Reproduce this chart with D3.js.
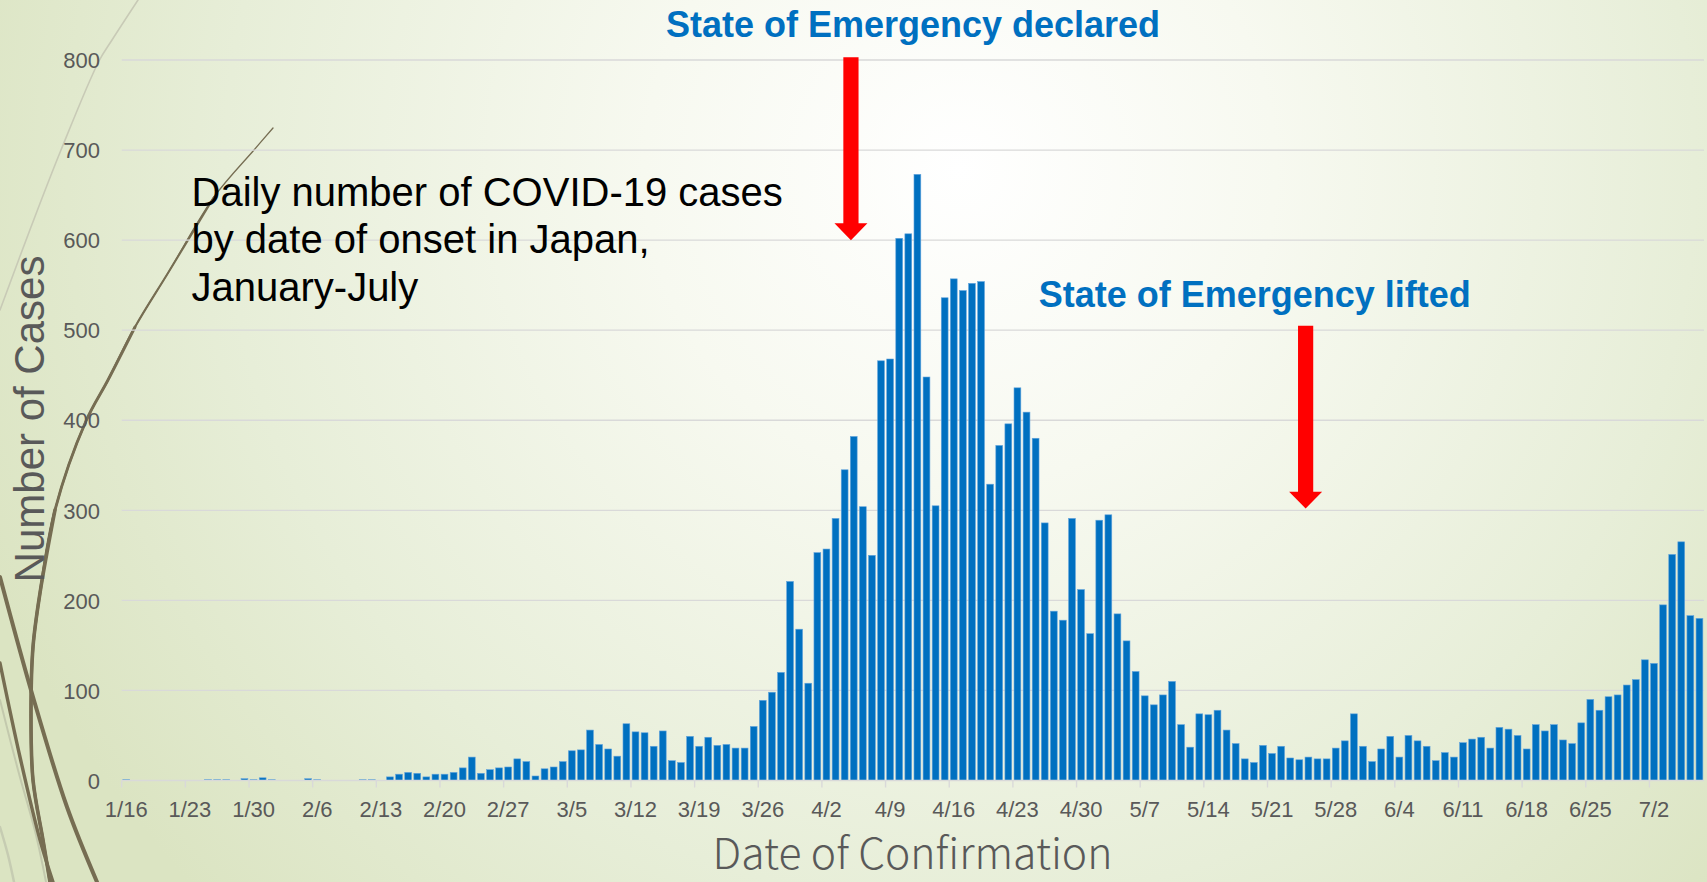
<!DOCTYPE html>
<html>
<head>
<meta charset="utf-8">
<script src="https://cdn.jsdelivr.net/npm/d3@7"></script>
<style>
html,body{margin:0;padding:0;overflow:hidden;background:#eef2e2;}
svg{display:block;}
</style>
</head>
<body>
<svg id="chart" width="1707" height="882"></svg>
<script>
// ---------------- DATA ----------------
const firstDay = "2020-01-16";
const lastDay  = "2020-07-07";
// daily cases, one value per day from 1/16 to 7/7
const casesJan = [1,0,0,0,0,0,0,0,0,1,1,1,0,2,1,3];                      // 1/16-1/31
const casesFeb = [1,0,0,0,2,1,0,0,0,0,1,1,0,4,7,9,8,4,7,7,9,14,26,8,12,14,15,24,21];
const casesMar = [5,13,15,21,33,34,56,40,35,27,63,54,53,38,55,22,20,49,38,48,39,40,36,36,60,89,98,120,221,168,108];
const casesApr = [253,257,291,345,382,304,250,466,468,602,607,673,448,305,536,557,544,552,554,329,372,396,436,409,380,286,188,178,291,212];
const casesMay = [163,289,295,185,155,121,94,84,95,110,62,37,74,73,78,56,41,24,20,39,30,38,25,23,26,24,24,36,44,74,38];
const casesJun = [21,35,49,26,50,44,38,22,31,26,42,46,48,36,59,57,50,35,62,55,62,45,41,64,90,78,93,95,106,112];
const casesJul = [134,130,195,251,265,183,180];
const xTickLabels = ["1/16","1/23","1/30","2/6","2/13","2/20","2/27","3/5","3/12","3/19","3/26","4/2","4/9","4/16","4/23","4/30","5/7","5/14","5/21","5/28","6/4","6/11","6/18","6/25","7/2"];
const yTickValues = [0,100,200,300,400,500,600,700,800];
const titleLines = ["Daily number of COVID-19 cases","by date of onset in Japan,","January-July"];
const eventLabels = ["State of Emergency declared","State of Emergency lifted"];
const eventDates  = ["4/5","5/25"];
const eventArrowTop = [803, 505];   // value at arrow tail
const eventArrowTip = [600, 302];   // value at arrow tip

// ---------------- SETUP ----------------
const fmt = d3.timeFormat("%-m/%-d");
const parse = d3.timeParse("%Y-%m-%d");
const days = d3.timeDay.range(parse(firstDay), d3.timeDay.offset(parse(lastDay), 1)).map(fmt);
const cases = [].concat(casesJan, casesFeb, casesMar, casesApr, casesMay, casesJun, casesJul);
const data = days.map((d, i) => ({date: d, value: cases[i]}));

const W = 1707, H = 882;
const plotL = 121.7, plotR = 1704, plotB = 780.5, plotT = 60;
const FONT = "'Liberation Sans', Arial, Helvetica, sans-serif";
const GRAY = "#595959";

const svg = d3.select("#chart");
const defs = svg.append("defs");

// background gradient
const rg = defs.append("radialGradient").attr("id", "bg")
  .attr("gradientUnits", "userSpaceOnUse")
  .attr("cx", 960).attr("cy", 170).attr("r", 1050)
  .attr("fx", 960).attr("fy", 170);
rg.append("stop").attr("offset", 0).attr("stop-color", "#ffffff");
rg.append("stop").attr("offset", 0.3).attr("stop-color", "#f7f9f0");
rg.append("stop").attr("offset", 0.7).attr("stop-color", "#e7eed8");
rg.append("stop").attr("offset", 1).attr("stop-color", "#dbe4c2");
svg.append("rect").attr("width", W).attr("height", H).attr("fill", "url(#bg)");

// decorative wisp lines (theme ornament)
const deco = svg.append("g").attr("fill", "none").attr("stroke-linecap", "round");
const lineGen = d3.line().curve(d3.curveCatmullRom.alpha(0.5));
const olive = "#766d52";
deco.append("path").attr("d", lineGen([[138,0],[112,40],[99,61],[61,150],[31,227],[0,310]]))
  .attr("stroke", "#c8cab6").attr("stroke-width", 1.6);
deco.append("path").attr("d", lineGen([[0,700],[18,770],[36,835],[46,882]]))
  .attr("stroke", "#c3c9ad").attr("stroke-width", 2);
deco.append("path").attr("d", lineGen([[0,827],[8,855],[14,882]]))
  .attr("stroke", "#c6ccb2").attr("stroke-width", 2.5);
const arcPts = [[273,128],[254,150],[214,197],[168,273],[135,327],[108,380],[86,421],[55,510],[40,593],[33,647],[31,713],[33,780],[43,840],[50,882]];
deco.append("path").attr("d", lineGen(arcPts)).attr("stroke", olive).attr("stroke-width", 1.3);
deco.append("path").attr("d", lineGen(arcPts.slice(2))).attr("stroke", olive).attr("stroke-width", 2.1);
deco.append("path").attr("d", lineGen(arcPts.slice(4))).attr("stroke", olive).attr("stroke-width", 2.9);
deco.append("path").attr("d", lineGen(arcPts.slice(7))).attr("stroke", olive).attr("stroke-width", 3.6);
deco.append("path").attr("d", lineGen([[0,577],[33,697],[67,807],[97,882]]))
  .attr("stroke", olive).attr("stroke-width", 4);
deco.append("path").attr("d", lineGen([[0,663],[20,757],[40,840],[53,882]]))
  .attr("stroke", olive).attr("stroke-width", 3.4);

// ---------------- SCALES ----------------
const x = d3.scaleBand().domain(days).range([plotL, plotR]).paddingInner(0.25).paddingOuter(0.125);
const y = d3.scaleLinear().domain([0, 800]).range([plotB, plotT]);
const step = x.step();

// gridlines
svg.append("g").selectAll("line").data(yTickValues.filter(v => v > 0)).join("line")
  .attr("x1", plotL).attr("x2", plotR)
  .attr("y1", d => y(d)).attr("y2", d => y(d))
  .attr("stroke", "#d9d9d9").attr("stroke-width", 1.3);

// y axis labels
const yAxis = d3.axisLeft(y).tickValues(yTickValues).tickSize(0).tickPadding(0);
const yg = svg.append("g").attr("transform", `translate(100,0)`).call(yAxis);
yg.select(".domain").remove();
yg.selectAll("text").attr("font-family", FONT).attr("font-size", 22).attr("fill", GRAY).attr("dy", "0.35em");

// bars
svg.append("g").selectAll("rect").data(data.filter(d => d.value > 0)).join("rect")
  .attr("x", d => x(d.date))
  .attr("width", x.bandwidth())
  .attr("y", d => y(d.value))
  .attr("height", d => plotB - y(d.value))
  .attr("fill", "#0070c0")
  .attr("stroke", "#63a4dc")
  .attr("stroke-width", 0.6);

// x axis
const xAxis = d3.axisBottom(x).tickValues(xTickLabels).tickSize(0).tickPadding(0);
const xg = svg.append("g").attr("transform", `translate(0,${plotB})`).call(xAxis);
xg.select(".domain").remove();
xg.selectAll("text").attr("font-family", FONT).attr("font-size", 22).attr("fill", GRAY)
  .attr("dy", null).attr("y", 36.5);
svg.append("line").attr("x1", plotL).attr("x2", plotR).attr("y1", plotB).attr("y2", plotB)
  .attr("stroke", "#d9d9d9").attr("stroke-width", 1.4);
svg.append("g").selectAll("line").data(xTickLabels).join("line")
  .attr("x1", d => x(d) - step * 0.125).attr("x2", d => x(d) - step * 0.125)
  .attr("y1", plotB).attr("y2", plotB + 7)
  .attr("stroke", "#d9d9d9").attr("stroke-width", 1.4);

// axis titles
svg.append("text").text("Number of Cases")
  .attr("transform", "translate(44,419) rotate(-90)")
  .attr("text-anchor", "middle")
  .attr("font-family", FONT).attr("font-size", 42).attr("fill", GRAY);
const xt = svg.append("text").text("Date of Confirmation")
  .attr("x", 912.5).attr("y", 869)
  .attr("text-anchor", "middle")
  .attr("font-family", "'Noto Sans CJK JP', 'Noto Sans', sans-serif")
  .attr("font-weight", 300)
  .attr("font-size", 40).attr("fill", GRAY);
const xtLen = xt.node().getComputedTextLength();
xt.attr("font-size", 40 * 400 / xtLen);

// chart title
svg.append("g").selectAll("text").data(titleLines).join("text")
  .text(d => d)
  .attr("x", 191.5)
  .attr("y", (d, i) => 205.5 + i * 47.7)
  .attr("font-family", FONT).attr("font-size", 40).attr("fill", "#000");

// event annotations
const evLabelX = [913, 1254.7];
const evLabelY = [36.7, 307.3];
svg.append("g").selectAll("text").data(eventLabels).join("text")
  .text(d => d)
  .attr("x", (d, i) => evLabelX[i]).attr("y", (d, i) => evLabelY[i])
  .attr("text-anchor", "middle")
  .attr("font-family", FONT).attr("font-weight", "bold").attr("font-size", 36).attr("fill", "#0070c0");

const arrows = svg.append("g");
eventDates.forEach((dt, i) => {
  const cx = x(dt) + x.bandwidth() / 2 - 2.8;
  const yTop = y(eventArrowTop[i]);
  const yTip = y(eventArrowTip[i]);
  const headH = 16.8, shaftW = 15.2, headW = 33;
  const yHead = yTip - headH;
  const pts = [
    [cx - shaftW / 2, yTop], [cx + shaftW / 2, yTop], [cx + shaftW / 2, yHead],
    [cx + headW / 2, yHead], [cx, yTip], [cx - headW / 2, yHead], [cx - shaftW / 2, yHead]
  ];
  arrows.append("path").attr("d", "M" + pts.map(p => p.join(",")).join("L") + "Z")
    .attr("fill", "#ff0000");
});
</script>
</body>
</html>
